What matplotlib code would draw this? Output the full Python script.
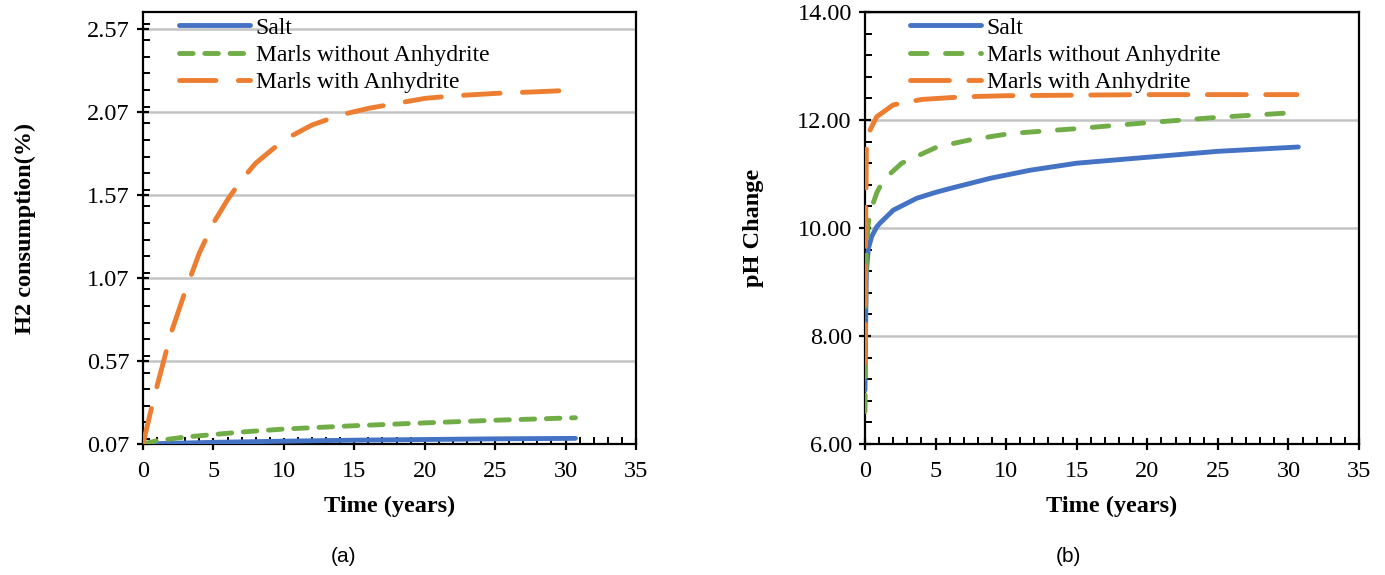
import matplotlib
matplotlib.use("Agg")
import matplotlib.pyplot as plt
from matplotlib.ticker import MultipleLocator, FixedLocator, FormatStrFormatter

# ---------------- data ----------------
labels = ["Salt", "Marls without Anhydrite", "Marls with Anhydrite"]
colors = ["#4472C4", "#70AD47", "#ED7D31"]

# (a) H2 consumption (%)
t_salt_a = [0, 5, 10, 15, 20, 25, 30.7]
h2_salt = [0.07, 0.080, 0.087, 0.093, 0.097, 0.101, 0.104]
t_marl_a = [0, 1, 3, 5, 7, 10, 15, 20, 25, 30.7]
h2_marl = [0.07, 0.09, 0.112, 0.127, 0.142, 0.16, 0.18, 0.197, 0.213, 0.228]
t_anh_a = [0, 0.5, 1, 2, 3, 4, 5, 6, 7, 8, 9, 10, 12, 14, 16, 18, 20, 22, 25, 28, 30.7]
h2_anh = [0.07, 0.25, 0.42, 0.74, 0.99, 1.22, 1.40, 1.54, 1.66, 1.76, 1.83, 1.90,
          1.99, 2.05, 2.09, 2.12, 2.15, 2.165, 2.18, 2.19, 2.20]

# (b) pH change
t_salt_b = [0, 0.05, 0.1, 0.24, 0.47, 0.83, 1.06, 2.0, 3.66, 5.0, 6.0, 8.86, 11.7, 15, 20, 25, 30.7]
ph_salt = [7.0, 8.3, 9.2, 9.62, 9.84, 10.02, 10.09, 10.33, 10.55, 10.66, 10.73, 10.92,
           11.07, 11.2, 11.31, 11.42, 11.5]
t_marl_b = [0, 0.05, 0.1, 0.24, 0.5, 0.83, 1.3, 2.6, 5.1, 7.4, 10.3, 15, 20, 25, 30.6]
ph_marl = [6.6, 8.5, 9.6, 10.1, 10.4, 10.65, 10.89, 11.2, 11.5, 11.63, 11.75, 11.84,
           11.95, 12.05, 12.14]
t_anh_b = [0, 0.05, 0.1, 0.35, 0.83, 2.0, 4, 7, 10, 15, 20, 25, 30.6]
ph_anh = [7.5, 10.0, 11.5, 11.81, 12.06, 12.28, 12.38, 12.43, 12.45, 12.46, 12.47, 12.47, 12.47]

yticks_a = [0.07, 0.57, 1.07, 1.57, 2.07, 2.57]
yticks_b = [6, 8, 10, 12, 14]
xticks = [0, 5, 10, 15, 20, 25, 30, 35]

# ---------------- figure ----------------
W, H = 1385, 575
fig = plt.figure(figsize=(W / 100, H / 100), dpi=100)

serif = "Liberation Serif"
sans = "Liberation Sans"
LW = 3.5
TICK_FS = 17.5
LAB_FS = 17.5
LEG_FS = 17


def make_ax(x0, x1, y0, y1):
    return fig.add_axes([x0 / W, 1 - y1 / H, (x1 - x0) / W, (y1 - y0) / H])


axA = make_ax(143, 636, 12, 444)
axB = make_ax(865, 1359, 12, 444)

dash_styles_a = [None, (0, (2.8, 2.4)), (0, (7.5, 4.6))]
dash_styles_b = [None, (0, (3.4, 3.8)), (0, (8.0, 4.0))]

series_a = [(t_salt_a, h2_salt), (t_marl_a, h2_marl), (t_anh_a, h2_anh)]
series_b = [(t_salt_b, ph_salt), (t_marl_b, ph_marl), (t_anh_b, ph_anh)]

for ax, series, dstyles in [(axA, series_a, dash_styles_a), (axB, series_b, dash_styles_b)]:
    for (t, v), lab, c, ds in zip(series, labels, colors, dstyles):
        if ds is None:
            ax.plot(t, v, color=c, lw=LW, label=lab, solid_capstyle="round", zorder=3)
        else:
            ax.plot(t, v, color=c, lw=LW, label=lab, linestyle=ds,
                    dash_capstyle="round", zorder=3)

# axes formatting
axA.set_xlim(0, 35)
axA.set_ylim(0.07, 2.67)
axA.yaxis.set_major_locator(FixedLocator(yticks_a))
axA.yaxis.set_minor_locator(MultipleLocator(0.1))
axA.yaxis.set_major_formatter(FormatStrFormatter("%.2f"))
axA.set_ylabel("H2 consumption(%)", fontname=serif, fontweight="bold", fontsize=LAB_FS, labelpad=37)

axB.set_xlim(0, 35)
axB.set_ylim(6, 14)
axB.yaxis.set_major_locator(FixedLocator(yticks_b))
axB.yaxis.set_minor_locator(MultipleLocator(0.4))
axB.yaxis.set_major_formatter(FormatStrFormatter("%.2f"))
axB.set_ylabel("pH Change", fontname=serif, fontweight="bold", fontsize=LAB_FS, labelpad=24)

for ax in (axA, axB):
    ax.xaxis.set_major_locator(FixedLocator(xticks))
    ax.xaxis.set_minor_locator(MultipleLocator(1))
    ax.set_xlabel("Time (years)", fontname=serif, fontweight="bold", fontsize=LAB_FS, labelpad=10)
    ax.grid(axis="y", which="major", color="#c4c4c4", lw=1.8, zorder=0)
    ax.set_axisbelow(True)
    for s in ax.spines.values():
        s.set_linewidth(1.6)
        s.set_color("black")
    ax.tick_params(which="major", direction="inout", length=9, width=1.6,
                   labelsize=TICK_FS)
    ax.tick_params(axis="x", which="major", pad=8)
    ax.tick_params(axis="y", which="major", pad=5)
    ax.tick_params(which="minor", direction="in", length=5, width=1.4)
    for lbl in ax.get_xticklabels() + ax.get_yticklabels():
        lbl.set_fontname(serif)

leg_kw = dict(frameon=False, prop={"family": serif, "size": LEG_FS}, handlelength=3.0,
              handletextpad=0.25, labelspacing=0.25, borderaxespad=0, borderpad=0.0)
axA.legend(loc="upper left", bbox_to_anchor=((179 - 143) / 493, (444 - 17) / 432), **leg_kw)
axB.legend(loc="upper left", bbox_to_anchor=((910 - 865) / 494, (444 - 17) / 432), **leg_kw)

fig.text(343 / W, 1 - 556 / H, "(a)", fontname=sans, fontsize=15, ha="center", va="center")
fig.text(1068 / W, 1 - 556 / H, "(b)", fontname=sans, fontsize=15, ha="center", va="center")

fig.savefig("out.png", dpi=100)
